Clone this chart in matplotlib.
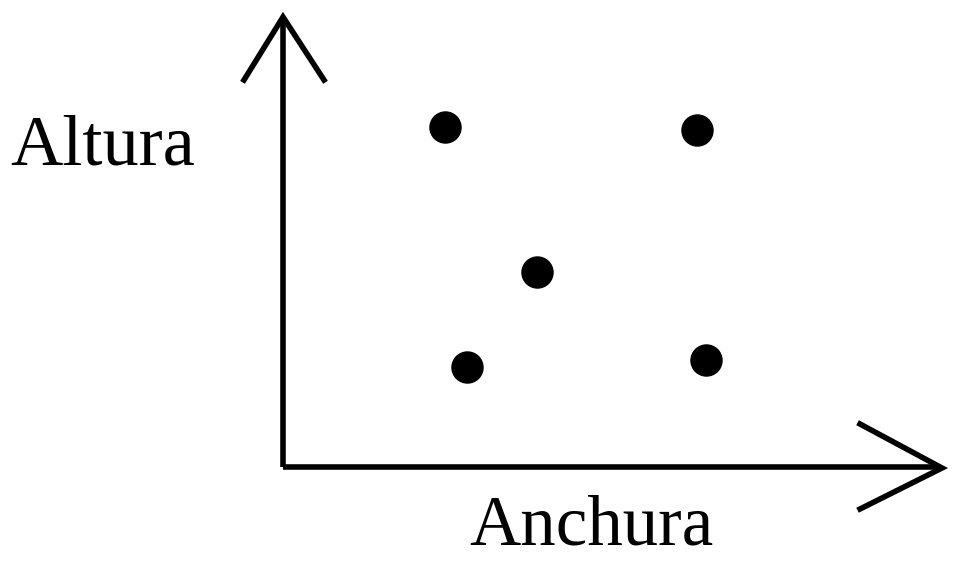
import matplotlib
matplotlib.use("Agg")
import matplotlib.pyplot as plt

# data: anchura (x) and altura (y) of the five points, in axis units from the origin
anchura = [162, 414, 254, 184, 423]
altura = [340, 337, 195, 100, 107]

x_label = "Anchura"
y_label = "Altura"

fig = plt.figure(figsize=(9.63, 5.75), dpi=100)
ax = fig.add_axes([0, 0, 1, 1])
ax.set_xlim(-283, 680)
ax.set_ylim(-108, 467)
ax.axis("off")

lw = 4.0
# axes lines
ax.plot([0, 0], [0, 448], color="black", lw=lw, solid_capstyle="butt")
ax.plot([0, 657], [0, 0], color="black", lw=lw, solid_capstyle="butt")
# open arrow heads
ax.plot([-39, 0, 41], [387, 450, 387], color="black", lw=lw, solid_joinstyle="miter")
ax.plot([577, 659, 577], [43, -1, -42], color="black", lw=lw, solid_joinstyle="miter")

ax.scatter(anchura, altura, s=500, color="black", zorder=3)

ax.text(-180, 320, y_label, fontsize=52, family="Liberation Serif",
        ha="center", va="center")
ax.text(308, -60, x_label, fontsize=51, family="Liberation Serif",
        ha="center", va="center")

fig.savefig("out.png", dpi=100)
